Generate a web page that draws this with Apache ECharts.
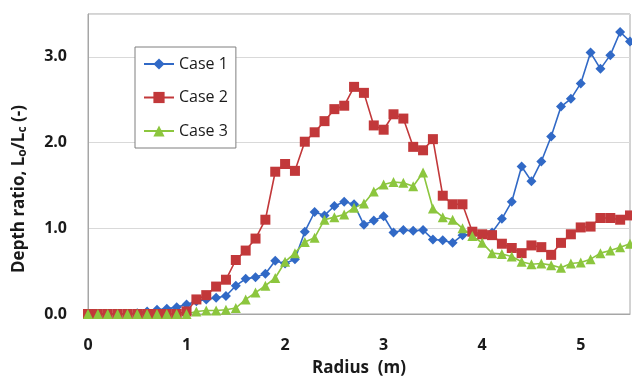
<!DOCTYPE html>
<html>
<head>
<meta charset="utf-8">
<script src="https://cdn.jsdelivr.net/npm/echarts@6/dist/echarts.min.js"></script>
<style>
html,body{margin:0;padding:0;background:#fff;}
#chart{width:632px;height:379px;}
</style>
</head>
<body>
<div id="chart"></div>
<script>
var radius = [0.0,0.1,0.2,0.3,0.4,0.5,0.6,0.7,0.8,0.9,
  1.0,1.1,1.2,1.3,1.4,1.5,1.6,1.7,1.8,1.9,
  2.0,2.1,2.2,2.3,2.4,2.5,2.6,2.7,2.8,2.9,
  3.0,3.1,3.2,3.3,3.4,3.5,3.6,3.7,3.8,3.9,
  4.0,4.1,4.2,4.3,4.4,4.5,4.6,4.7,4.8,4.9,
  5.0,5.1,5.2,5.3,5.4,5.5];
var case1 = [0,0,0,0,0,0.01,0.03,0.05,0.06,0.08,
  0.11,0.15,0.17,0.19,0.21,0.33,0.41,0.43,0.47,0.62,
  0.59,0.64,0.96,1.19,1.15,1.26,1.31,1.28,1.04,1.09,
  1.14,0.95,0.98,0.97,0.98,0.87,0.86,0.83,0.92,0.93,
  0.92,0.95,1.11,1.31,1.72,1.55,1.78,2.07,2.42,2.51,
  2.69,3.05,2.86,3.02,3.29,3.18];
var case2 = [0,0,0,0,0,0,0,0,0,0,
  0.03,0.17,0.22,0.32,0.40,0.63,0.74,0.88,1.10,1.66,
  1.75,1.67,2.01,2.12,2.25,2.39,2.43,2.65,2.58,2.20,
  2.15,2.33,2.28,1.95,1.91,2.04,1.38,1.28,1.28,0.96,
  0.93,0.92,0.82,0.77,0.71,0.80,0.78,0.69,0.83,0.93,
  1.01,1.02,1.12,1.12,1.10,1.15];
var case3 = [0,0,0,0,0,0,0,0,0,0,
  0,0.03,0.04,0.04,0.05,0.07,0.17,0.25,0.33,0.42,
  0.61,0.71,0.84,0.89,1.10,1.13,1.16,1.24,1.29,1.43,
  1.51,1.54,1.53,1.49,1.65,1.23,1.13,1.10,1.00,0.91,
  0.83,0.71,0.70,0.67,0.61,0.58,0.59,0.57,0.54,0.59,
  0.60,0.64,0.71,0.74,0.78,0.82];
var seriesNames = ['Case 1','Case 2','Case 3'];
var xTicks = [0,1,2,3,4,5];
var yTicks = [0,1,2,3];

function pairs(ys){ return radius.map(function(x,i){ return [x, ys[i]]; }); }

var FONT = '"Open Sans", "Noto Sans", sans-serif';
var chart = echarts.init(document.getElementById('chart'), null, {renderer:'canvas'});
chart.setOption({
  animation:false,
  backgroundColor:'#ffffff',
  grid:{left:88, right:2, top:14, bottom:65, show:true, borderColor:'#a6a6a6', borderWidth:1, backgroundColor:'transparent', outerBoundsMode:'none', containLabel:false},
  xAxis:{
    type:'value', min:0, max:5.5, interval:1,
    axisLine:{show:true, onZero:false, lineStyle:{color:'#a6a6a6'}},
    axisTick:{show:false},
    splitLine:{show:false},
    axisLabel:{margin:23, color:'#1a1a1a', fontWeight:'bold', fontSize:16, fontFamily:FONT,
      formatter:function(v){ return xTicks.indexOf(v)>=0 ? String(v) : ''; }},
    name:'Radius  (m)', nameLocation:'middle', nameGap:46,
    nameTextStyle:{color:'#1a1a1a', fontWeight:'bold', fontSize:17, fontFamily:FONT}
  },
  yAxis:{
    type:'value', min:0, max:3.5, interval:1,
    axisLine:{show:true, lineStyle:{color:'#a6a6a6'}},
    axisTick:{show:false},
    splitLine:{show:true, lineStyle:{color:'#d9d9d9', width:1}},
    axisLabel:{margin:21, color:'#1a1a1a', fontWeight:'bold', fontSize:16, fontFamily:FONT,
      formatter:function(v){ return yTicks.indexOf(v)>=0 ? v.toFixed(1) : ''; }}
  },
  legend:{
    orient:'vertical', left:135, top:47,
    padding:[9,8,9,8], itemGap:17.5, itemWidth:30, itemHeight:14,
    backgroundColor:'#ffffff', borderColor:'#7f7f7f', borderWidth:1,
    textStyle:{color:'#1a1a1a', fontSize:16, fontFamily:FONT},
    data:seriesNames
  },
  graphic:[{
    type:'text', x:19, y:189, rotation:Math.PI/2,
    style:{
      text:'{b|Depth ratio, L}{s|o}{b|/L}{s|c}{b| (-)}',
      textAlign:'center', textVerticalAlign:'middle',
      rich:{
        b:{fontSize:17, fontWeight:'bold', fontFamily:FONT, fill:'#1a1a1a'},
        s:{fontSize:12, fontWeight:'bold', fontFamily:FONT, fill:'#1a1a1a', padding:[7,0,0,0]}
      }
    }
  }],
  series:[
    {name:seriesNames[0], type:'line', data:pairs(case1), symbol:'diamond', symbolSize:10,
      itemStyle:{color:'#3169c6'}, lineStyle:{color:'#3169c6', width:1.6}, clip:true},
    {name:seriesNames[1], type:'line', data:pairs(case2), symbol:'rect', symbolSize:10,
      itemStyle:{color:'#c2383a'}, lineStyle:{color:'#c2383a', width:1.6}, clip:true},
    {name:seriesNames[2], type:'line', data:pairs(case3), symbol:'triangle', symbolSize:10,
      itemStyle:{color:'#8cc63e'}, lineStyle:{color:'#8cc63e', width:1.6}, clip:true}
  ]
});
</script>
</body>
</html>
